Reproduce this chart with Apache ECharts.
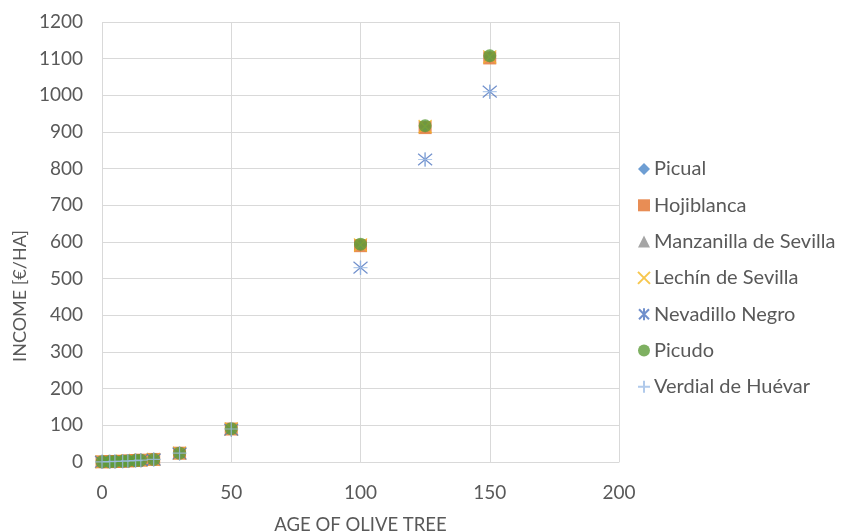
<!DOCTYPE html>
<html>
<head>
<meta charset="utf-8">
<script src="https://cdn.jsdelivr.net/npm/echarts@6/dist/echarts.min.js"></script>
<style>
  html, body { margin: 0; padding: 0; background: #fff; }
  #chart { width: 842px; height: 532px; }
</style>
</head>
<body>
<div id="chart"></div>
<script>
// Age of olive tree (years)
const ages = [0, 3, 5, 8, 10, 13, 15, 20, 30, 50, 100, 125, 150];

// Income per variety (€/ha)
const picual      = [0.5, 1, 1.5, 2, 3, 4, 5, 7, 24, 90, 592, 915, 1105];
const hojiblanca  = [0.5, 1, 1.5, 2, 3, 4, 5, 7, 24, 90, 590, 912, 1102];
const manzanilla  = [0.5, 1, 1.5, 2, 3, 4, 5, 7, 24, 90, 592, 915, 1105];
const lechin      = [0.5, 1, 1.5, 2, 3, 4, 5, 7, 24, 90, 592, 915, 1105];
const nevadillo   = [0.5, 1, 1.4, 1.9, 2.8, 3.8, 4.8, 6.6, 23, 88, 530, 825, 1010];
const picudo      = [0.5, 1, 1.5, 2, 3, 4, 5, 7, 24, 91, 594, 917, 1108];
const verdial     = [0.5, 1, 1.5, 2, 3, 4, 5, 7, 24, 90, 530, 825, 1010];

const xTicks = [0, 50, 100, 150, 200];

const FONT = 'Lato, "Open Sans", sans-serif';
const TEXT = '#595959';
const GRID = '#d9d9d9';

const pairs = vals => ages.map((a, i) => [a, vals[i]]);

const crossPath = 'path://M0,0 L10,10 M10,0 L0,10';
const starPath  = 'path://M0,0 L10,10 M10,0 L0,10 M5,-1 L5,11';
const plusPath  = 'path://M5,0 L5,10 M0,5 L10,5';

function markerSeries(name, vals, symbol, size, color, lineOnly) {
  return {
    name: name,
    type: 'scatter',
    data: pairs(vals),
    symbol: symbol,
    symbolSize: size,
    itemStyle: lineOnly
      ? { color: 'rgba(0,0,0,0)', borderColor: color, borderWidth: 1.2 }
      : { color: color }
  };
}

const series = [
  markerSeries('Picual', picual, 'diamond', 12, '#4a86c8', false),
  markerSeries('Hojiblanca', hojiblanca, 'rect', 13, '#e2712b', false),
  markerSeries('Manzanilla de Sevilla', manzanilla, 'triangle', 8, '#8f8f8f', false),
  markerSeries('Lechín de Sevilla', lechin, crossPath, 13, '#f5b922', true),
  markerSeries('Nevadillo Negro', nevadillo, starPath, 14, '#4e74bf', true),
  markerSeries('Picudo', picudo, 'circle', 13, '#5e9c3a', false),
  markerSeries('Verdial de Huévar', verdial, plusPath, 14, '#9dbde6', true)
];

const chart = echarts.init(document.getElementById('chart'), null, { renderer: 'canvas' });

chart.setOption({
  animation: false,
  backgroundColor: '#ffffff',
  grid: { left: 102, top: 22, width: 517, height: 440, containLabel: false, outerBoundsMode: 'none' },
  xAxis: {
    type: 'value',
    min: xTicks[0],
    max: xTicks[xTicks.length - 1],
    interval: 50,
    name: 'AGE OF OLIVE TREE',
    nameLocation: 'middle',
    nameGap: 54,
    nameTextStyle: { fontFamily: FONT, fontSize: 18.5, color: TEXT },
    axisLine: { show: true, lineStyle: { color: GRID, width: 1 } },
    axisTick: { show: false },
    axisLabel: { fontFamily: FONT, fontSize: 19, color: TEXT, margin: 21 },
    splitLine: { show: true, lineStyle: { color: GRID, width: 1 } }
  },
  yAxis: {
    type: 'value',
    min: 0,
    max: 1200,
    interval: 100,
    axisLine: { show: false },
    axisTick: { show: false },
    axisLabel: { fontFamily: FONT, fontSize: 19, color: TEXT, margin: 19, formatter: v => String(v) },
    splitLine: { show: true, lineStyle: { color: GRID, width: 1 } }
  },
  legend: {
    orient: 'vertical',
    left: 637,
    top: 159,
    padding: 0,
    itemWidth: 12,
    itemHeight: 12,
    itemGap: 16.3,
    textStyle: { fontFamily: FONT, fontSize: 20, color: TEXT, padding: [0, 0, 0, -1] },
    data: series.map(s => s.name)
  },
  graphic: [{
    type: 'text',
    left: 11,
    top: 230,
    rotation: Math.PI / 2,
    style: {
      text: 'INCOME [€/HA]',
      font: '18px ' + FONT,
      fill: TEXT
    }
  }],
  series: series
});
</script>
</body>
</html>
